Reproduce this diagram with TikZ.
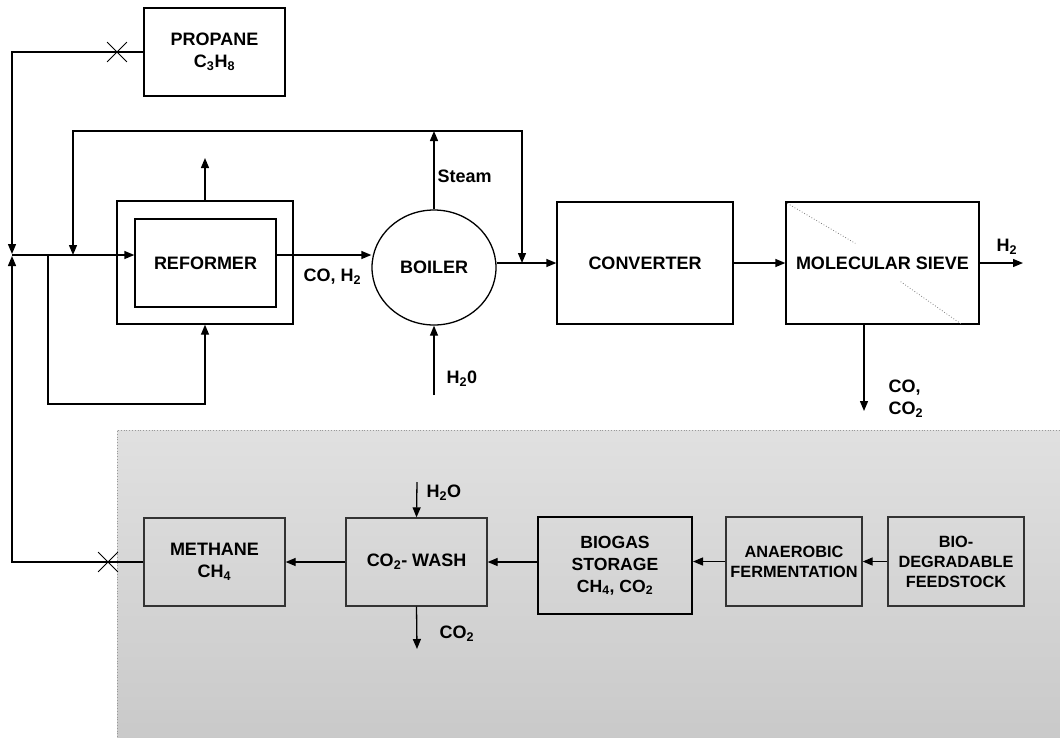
\documentclass[tikz,border=0pt]{standalone}
\usepackage{fontspec}
\setmainfont{Liberation Sans}
\usetikzlibrary{arrows.meta,positioning,calc,shapes.geometric,shapes.misc}

\begin{document}
\begin{tikzpicture}[
    x=1pt, y=-1pt,
    >={Triangle[length=10pt,width=8pt]},
    font=\fontsize{18}{22}\selectfont\bfseries,
    line width=1.3pt,
    unit/.style={draw, align=center, inner sep=2pt},
    bio/.style={draw=black!80, align=center, inner sep=2pt},
    smalltext/.style={font=\fontsize{16.3}{20}\selectfont\bfseries},
    valve/.style={cross out, draw, minimum size=19pt, inner sep=0pt, line width=0.8pt},
    stream/.style={anchor=west, inner sep=0pt, align=left},
    sievemark/.style={draw=gray, dotted, line width=0.8pt}
]
\useasboundingbox (0,0) rectangle (1060,737);

% biogas section
\fill[top color=black!12, bottom color=black!21] (117,430) rectangle (1060,737);
\draw[gray!80, dotted, line width=0.8pt] (117,737) -- (117,430) -- (1060,430);

% hydrogen plant
\node[unit, minimum width=141pt, minimum height=88pt] (propane) at (214.5,52) {PROPANE\\C\textsubscript{3}H\textsubscript{8}};
\node[unit, minimum width=176pt, minimum height=123pt] (furnace) at (205,262.5) {};
\node[unit, minimum width=141pt, minimum height=88pt] (reformer) at (205.5,263) {REFORMER};
\node[unit, ellipse, minimum width=124pt, minimum height=115pt, inner sep=0pt] (boiler) at (434,267.5) {BOILER};
\node[unit, minimum width=176pt, minimum height=122pt] (converter) at (645,263) {CONVERTER};
\node[unit, minimum width=193pt, minimum height=122pt] (sieve) at (882.5,263) {MOLECULAR SIEVE};

% biogas plant
\node[bio, minimum width=141pt, minimum height=88pt] (methane) at (214.5,562) {METHANE\\CH\textsubscript{4}};
\node[bio, minimum width=141pt, minimum height=88pt] (wash) at (416.5,562) {CO\textsubscript{2}- WASH};
\node[bio, draw=black, line width=2pt, minimum width=154pt, minimum height=97pt, font=\fontsize{17.6}{22}\selectfont\bfseries] (biogas) at (615,565.5) {BIOGAS\\STORAGE\\CH\textsubscript{4}, CO\textsubscript{2}};
\node[bio, smalltext, minimum width=136pt, minimum height=89pt] (anaerobic) at (794,561.5) {ANAEROBIC\\FERMENTATION};
\node[bio, smalltext, minimum width=136pt, minimum height=89pt] (feedstock) at (956,561.5) {BIO-\\DEGRADABLE\\FEEDSTOCK};

\coordinate (jn) at (12,255);
\coordinate (split) at (48,255);
\coordinate (loopbot) at (48,404);
\coordinate (mix1) at (73,255);
\coordinate (mix2) at (522,263);
\coordinate (steam) at (434,131);
\coordinate (flue) at (206,158);
\coordinate (water) at (434,395);
\coordinate (h2out) at (1023,263);
\coordinate (coout) at (864,411);
\coordinate (washin) at (417,482);
\coordinate (washout) at (417,649);

% feed lines
\draw[->, shorten >=1pt] (propane.west) -| (jn);
\draw[->, shorten >=1pt] (methane.west) -| (jn);
\draw[->] (jn) -- (jn -| reformer.west);
\draw[->] (split) -- (loopbot) -| (furnace.south);
\draw[->] (furnace.north) -- (furnace.north |- flue);
\draw[->] (reformer.east |- jn) -- (jn -| boiler.west);
\draw[->] (boiler.north) -- (steam);
\draw[->] (steam) -| (mix1);
\draw[->] (steam) -| (mix2);
\draw[->] (water) -- (boiler.south);
\draw[->] (boiler.east |- mix2) -- (mix2 -| converter.west);
\draw[->] (converter) -- (sieve);
\draw[->] (sieve.east) -- (h2out);
\draw[->] (sieve.south -| coout) -- (coout);

\draw[->] (feedstock) -- (anaerobic);
\draw[->] (anaerobic.west) -- (anaerobic.west -| biogas.east);
\draw[->] (biogas.west |- wash) -- (wash.east);
\draw[->] (wash) -- (methane);
\draw[->] (washin) -- (wash.north);
\draw[->] (wash.south) -- (washout);

\node[valve] (valvetop) at (117,52) {};
\node[valve] (valvebot) at (108,562) {};

\draw[sievemark] ($(sieve.north west)+(2,2)$) -- ($(sieve.north west)+(70,42)$);
\draw[sievemark] ($(sieve.south east)+(-79,-43)$) -- ($(sieve.south east)+(-19,-1)$);

% stream labels
\node[stream] (lblsteam) at (437,176) {Steam};
\node[stream] (lblsyngas) at (303,277) {CO, H\textsubscript{2}};
\node[stream] (lblwater) at (446,379) {H\textsubscript{2}0};
\node[stream] (lblh2) at (996,247) {H\textsubscript{2}};
\node[stream] (lblco) at (888,399) {CO,\\CO\textsubscript{2}};
\node[stream] (lblwashin) at (426,493) {H\textsubscript{2}O};
\node[stream] (lblwashout) at (439,634) {CO\textsubscript{2}};
\end{tikzpicture}
\end{document}
